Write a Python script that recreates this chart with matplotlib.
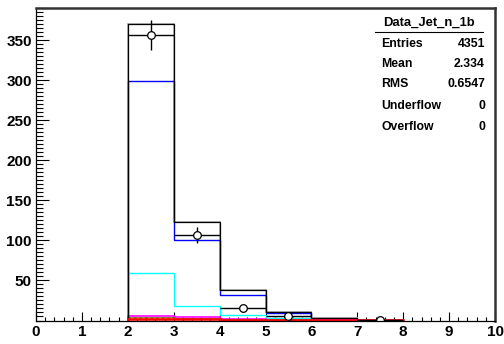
import numpy as np
import matplotlib
matplotlib.use("Agg")
import matplotlib.pyplot as plt
from matplotlib.ticker import MultipleLocator, FixedLocator
from matplotlib.patches import Rectangle

plt.rcParams['font.family'] = ['Liberation Sans', 'DejaVu Sans']

edges = np.arange(0, 11, 1)
stack_total = [0, 0, 371, 123, 38, 11, 3, 1, 0, 0]
stack_blue = [0, 0, 299, 100, 32, 9, 2, 0.5, 0, 0]
stack_cyan = [0, 0, 59, 18, 7, 3, 1, 0.3, 0, 0]
stack_magenta = [0, 0, 6, 4, 2, 1, 0.5, 0, 0, 0]
stack_yellow = [0, 0, 3, 2, 1, 0.5, 0, 0, 0, 0]
stack_red = [0, 0, 2, 1.5, 1, 0.6, 0.4, 0.3, 0, 0]

data_x = [2.5, 3.5, 4.5, 5.5, 7.5]
data_y = [357, 107, 15, 5, 1]

hist_name = "Data_Jet_n_1b"
stat_labels = ["Entries", "Mean", "RMS", "Underflow", "Overflow"]
stat_values = ["4351", "2.334", "0.6547", "0", "0"]

fig = plt.figure(figsize=(5.04, 3.44), dpi=100)
W, H = 504, 344
x0, x1 = 36, 495
y_top, y_bot = 8, 320.5
ax = fig.add_axes([x0 / W, (H - y_bot) / H, (x1 - x0) / W, (y_bot - y_top) / H])
ax.set_xlim(0, 10)
ax.set_ylim(0, 390.6)

def draw(vals, **kw):
    v = np.asarray(vals, dtype=float)
    nz = np.nonzero(v)[0]
    lo, hi = nz[0], nz[-1] + 1
    ax.stairs(v[lo:hi], edges[lo:hi + 1], **kw)

draw(stack_total, color='#b0b0b0', lw=1.3, zorder=2)
draw(stack_total, color='black', lw=0.9, zorder=2.1)
draw(stack_blue, color='#0000ff', lw=1.0, zorder=2)
draw(stack_cyan, color='#00ffff', lw=1.0, zorder=2)
draw(stack_magenta, color='#ff00ff', lw=1.2, zorder=2)
draw(stack_yellow, color='#6b5a1e', lw=1.2, zorder=2)
draw(stack_yellow, color='#ffff00', lw=1.0, ls=(0, (2, 2)), zorder=2.05)
draw(stack_red, color='#ff0000', lw=1.8, zorder=2.2)

yerr = np.sqrt(data_y)
ax.errorbar(data_x, data_y, xerr=0.5, yerr=yerr, fmt='o', color='black',
            mfc='white', mec='black', ms=5.5, mew=0.9, elinewidth=1.0,
            capsize=0, zorder=3)

# stats box
bx0 = (362 - x0) / (x1 - x0)
by0 = (y_bot - 140) / (y_bot - y_top)
ax.add_patch(Rectangle((bx0, by0), 1 - bx0, 1 - by0, transform=ax.transAxes,
                       facecolor='white', edgecolor='none', zorder=4))

def ax_x(px):
    return (px - x0) / (x1 - x0)

def ax_y(py):
    return (y_bot - py) / (y_bot - y_top)

ax.text(ax_x(429), ax_y(23), hist_name, transform=ax.transAxes, ha='center',
        va='center', fontsize=9.4, fontweight='bold', zorder=5)
ax.plot([ax_x(375), ax_x(483)], [ax_y(32), ax_y(32)], transform=ax.transAxes,
        color='black', lw=0.8, zorder=5, clip_on=False)
rows_y = [44, 64, 84, 106, 127]
for lab, val, ry in zip(stat_labels, stat_values, rows_y):
    ax.text(ax_x(381), ax_y(ry), lab, transform=ax.transAxes, ha='left',
            va='center', fontsize=8.8, fontweight='bold', zorder=5)
    ax.text(ax_x(485), ax_y(ry), val, transform=ax.transAxes, ha='right',
            va='center', fontsize=8.8, fontweight='bold', zorder=5)

# axes / ticks
ax.xaxis.set_major_locator(MultipleLocator(1))
ax.xaxis.set_minor_locator(MultipleLocator(0.2))
ax.yaxis.set_major_locator(FixedLocator([50, 100, 150, 200, 250, 300, 350]))
ax.yaxis.set_minor_locator(MultipleLocator(5))
ax.tick_params(axis='x', which='major', direction='in', length=6.5, width=0.8,
               labelsize=11, pad=3.5)
ax.tick_params(axis='x', which='minor', direction='in', length=3.2, width=0.8)
ax.tick_params(axis='y', which='major', direction='in', length=9.5, width=0.8,
               labelsize=11, pad=3)
ax.tick_params(axis='y', which='minor', direction='in', length=4.7, width=0.8)
for lbl in ax.get_xticklabels() + ax.get_yticklabels():
    lbl.set_fontweight('bold')

for s in ['left', 'bottom']:
    ax.spines[s].set_linewidth(0.9)
    ax.spines[s].set_color('black')
for s in ['top', 'right']:
    ax.spines[s].set_linewidth(1.8)
    ax.spines[s].set_color('#333333')
for s in ax.spines.values():
    s.set_zorder(6)

fig.savefig("out.png", dpi=100, facecolor='white')
